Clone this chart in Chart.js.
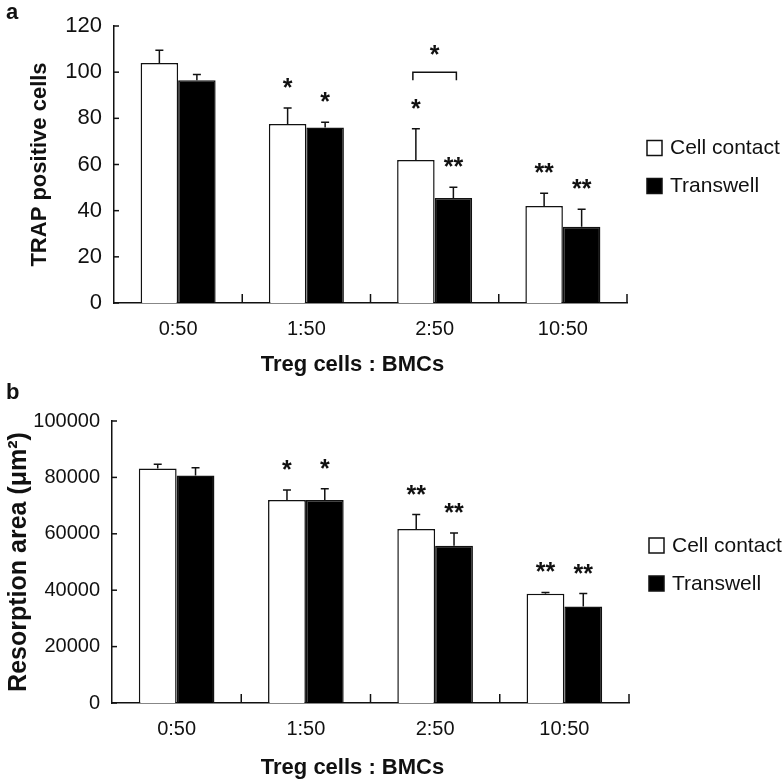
<!DOCTYPE html>
<html>
<head>
<meta charset="utf-8">
<script src="https://cdn.jsdelivr.net/npm/chart.js@4.4.0/dist/chart.umd.min.js"></script>
<style>
  body { margin: 0; background: #fff; }
  .panel { position: absolute; left: 0; width: 784px; }
</style>
</head>
<body>
<div class="panel" style="top:0;height:380px"><canvas id="chartA" width="784" height="380"></canvas></div>
<div class="panel" style="top:380px;height:403px"><canvas id="chartB" width="784" height="403"></canvas></div>
<script>
// categories (Treg cells : BMCs ratio)
const ratios = ['0:50', '1:50', '2:50', '10:50'];
const seriesNames = ['Cell contact', 'Transwell'];

// panel a: TRAP positive cells
const trapContact = [104, 77.5, 62, 42];
const trapContactErr = [5.5, 7, 13.5, 5.5];
const trapTranswell = [96.5, 76, 45.5, 33];
const trapTranswellErr = [2.5, 2.3, 4.6, 7.6];
const trapContactSig = ['', '*', '*', '**'];
const trapTranswellSig = ['', '*', '**', '**'];
const trapTicks = [0, 20, 40, 60, 80, 100, 120];

// panel b: resorption area
const resContact = [83200, 72000, 61700, 38700];
const resContactErr = [1500, 3500, 5100, 500];
const resTranswell = [80700, 72000, 55800, 34200];
const resTranswellErr = [2700, 4000, 4500, 4600];
const resContactSig = ['', '*', '**', '**'];
const resTranswellSig = ['', '*', '**', '**'];
const resTicks = [0, 20000, 40000, 60000, 80000, 100000];

const FONT = "'Liberation Sans', Arial, sans-serif";
const INK = '#111';

// error bars, stars, inward ticks, legend, panel letter, x title
const extras = {
	id: 'extras',
	afterDatasetsDraw(chart, args, opts) {
		const ctx = chart.ctx;
		const xs = chart.scales.x, ys = chart.scales.y;
		const area = chart.chartArea;
		ctx.save();
		ctx.strokeStyle = INK;
		ctx.fillStyle = INK;
		ctx.lineWidth = 1.5;

		// inward y ticks
		ys.ticks.forEach((t, i) => {
			const py = ys.getPixelForTick(i);
			ctx.beginPath(); ctx.moveTo(area.left, py); ctx.lineTo(area.left + 5, py); ctx.stroke();
		});
		// upward x ticks between groups
		for (let i = 0; i < ratios.length; i++) {
			const px = xs.getPixelForValue(i + 0.5);
			ctx.beginPath(); ctx.moveTo(px, area.bottom); ctx.lineTo(px, area.bottom - 9); ctx.stroke();
		}

		// error bars + significance stars
		chart.data.datasets.forEach((ds, di) => {
			const meta = chart.getDatasetMeta(di);
			meta.data.forEach((bar, j) => {
				const top = ys.getPixelForValue(ds.data[j] + opts.errors[di][j]);
				ctx.beginPath();
				ctx.moveTo(bar.x, bar.y); ctx.lineTo(bar.x, top);
				ctx.moveTo(bar.x - 4, top); ctx.lineTo(bar.x + 4, top);
				ctx.stroke();
				const s = opts.stars[di][j];
				if (s) {
					ctx.font = 'bold 25px ' + FONT;
					ctx.textAlign = 'center';
					ctx.textBaseline = 'alphabetic';
					ctx.fillText(s, bar.x, top - 12);
				}
			});
		});

		// bracket between the two bars of one group
		if (opts.bracket) {
			const b = opts.bracket;
			const x0 = chart.getDatasetMeta(0).data[b.index].x - 3;
			const x1 = chart.getDatasetMeta(1).data[b.index].x + 3;
			const py = ys.getPixelForValue(b.value);
			ctx.beginPath();
			ctx.moveTo(x0, py + 8); ctx.lineTo(x0, py); ctx.lineTo(x1, py); ctx.lineTo(x1, py + 8);
			ctx.stroke();
			ctx.font = 'bold 25px ' + FONT;
			ctx.textAlign = 'center';
			ctx.fillText(b.label, (x0 + x1) / 2, py - 9);
		}

		// legend
		const cy = (area.top + area.bottom) / 2;
		chart.data.datasets.forEach((ds, di) => {
			const ly = cy + (di === 0 ? -17 : 21);
			const lx = area.right + 20;
			ctx.fillStyle = ds.backgroundColor;
			ctx.fillRect(lx, ly - 7, 15, 15);
			ctx.strokeRect(lx, ly - 7, 15, 15);
			ctx.fillStyle = INK;
			ctx.font = '21px ' + FONT;
			ctx.textAlign = 'left';
			ctx.textBaseline = 'middle';
			ctx.fillText(ds.label, lx + 23, ly + 1);
		});

		// x axis title
		ctx.font = 'bold 22px ' + FONT;
		ctx.textAlign = 'center';
		ctx.textBaseline = 'middle';
		ctx.fillText(opts.xTitle, (area.left + area.right) / 2 - 18, chart.height - 15);

		// panel letter
		ctx.textAlign = 'left';
		ctx.textBaseline = 'top';
		ctx.fillText(opts.letter, 6, 2);
		ctx.restore();
	}
};

function makeChart(id, cfg) {
	const ctx = document.getElementById(id).getContext('2d');
	return new Chart(ctx, {
		type: 'bar',
		data: {
			labels: ratios,
			datasets: [{
				label: seriesNames[0],
				data: cfg.contact,
				backgroundColor: '#ffffff',
				borderColor: INK,
				borderWidth: 1.5,
				categoryPercentage: 0.585,
				barPercentage: 1.0
			}, {
				label: seriesNames[1],
				data: cfg.transwell,
				backgroundColor: '#000000',
				borderColor: INK,
				borderWidth: 1.5,
				categoryPercentage: 0.585,
				barPercentage: 1.0
			}]
		},
		options: {
			responsive: false,
			animation: false,
			layout: { padding: { top: cfg.top, right: cfg.right, left: 0, bottom: 0 } },
			plugins: {
				legend: { display: false },
				tooltip: { enabled: false },
				extras: {
					errors: cfg.errors,
					stars: cfg.stars,
					bracket: cfg.bracket,
					xTitle: 'Treg cells : BMCs',
					letter: cfg.letter
				}
			},
			scales: {
				x: {
					grid: { display: false, drawTicks: false },
					border: { display: true, color: INK, width: 1.5 },
					ticks: { color: INK, font: { family: FONT, size: 20 }, padding: 14, maxRotation: 0 },
					afterFit: (s) => { s.height = cfg.xHeight; }
				},
				y: {
					min: 0,
					max: cfg.max,
					afterBuildTicks: (s) => { s.ticks = cfg.ticks.map(v => ({ value: v })); },
					grid: { display: false, drawTicks: false },
					border: { display: true, color: INK, width: 1.5 },
					ticks: {
						color: INK,
						font: { family: FONT, size: cfg.tickSize },
						padding: 12,
						callback: (v) => String(v)
					},
					title: {
						display: true,
						text: cfg.yTitle,
						color: INK,
						font: { family: FONT, size: cfg.titleSize, weight: 'bold' },
						padding: { top: cfg.titlePad, bottom: 0 }
					},
					afterFit: (s) => { s.width = cfg.yWidth; }
				}
			}
		},
		plugins: [extras]
	});
}

makeChart('chartA', {
	contact: trapContact, transwell: trapTranswell,
	errors: [trapContactErr, trapTranswellErr],
	stars: [trapContactSig, trapTranswellSig],
	bracket: { index: 2, value: 100, label: '*' },
	ticks: trapTicks, max: 120, tickSize: 22,
	yTitle: 'TRAP positive cells', titleSize: 22, titlePad: 27,
	top: 26, right: 157, xHeight: 77, yWidth: 114, letter: 'a'
});

makeChart('chartB', {
	contact: resContact, transwell: resTranswell,
	errors: [resContactErr, resTranswellErr],
	stars: [resContactSig, resTranswellSig],
	bracket: null,
	ticks: resTicks, max: 100000, tickSize: 20,
	yTitle: 'Resorption area (\u03bcm\u00b2)', titleSize: 25, titlePad: 4,
	top: 41, right: 155, xHeight: 80, yWidth: 112, letter: 'b'
});
</script>
</body>
</html>
